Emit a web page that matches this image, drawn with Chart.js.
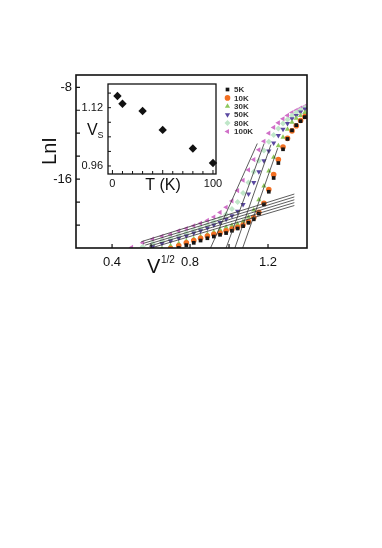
<!DOCTYPE html>
<html><head><meta charset="utf-8">
<script src="https://cdn.jsdelivr.net/npm/chart.js@4.4.1/dist/chart.umd.min.js"></script>
<style>
html,body{margin:0;padding:0;background:#fff;}
#wrap{position:relative;width:382px;height:548px;background:#fff;}
canvas{position:absolute;left:0;top:0;}
</style></head><body>
<div id="wrap"><canvas id="main" width="382" height="548"></canvas><canvas id="inset" width="382" height="548"></canvas></div>
<script>
// ---- main plot data: LnI vs V^(1/2) ----
const vHalf = [0.50,0.557,0.608,0.656,0.70,0.742,0.781,0.819,0.854,0.889,0.922,0.954,0.985,1.015,1.044,1.072,1.10,1.127,1.153,1.179,1.204,1.229,1.253,1.277,1.30,1.323,1.345,1.367,1.389];
const ln5K   = [-23.6,-23.2,-22.8,-22.5,-22.25,-22.0,-21.75,-21.55,-21.35,-21.15,-21.0,-20.85,-20.7,-20.5,-20.3,-20.1,-19.8,-19.5,-19.0,-18.2,-17.1,-15.9,-14.6,-13.4,-12.5,-11.75,-11.3,-10.95,-10.6];
const ln10K  = [-23.4,-23.0,-22.6,-22.3,-22.05,-21.8,-21.55,-21.35,-21.15,-20.95,-20.8,-20.7,-20.5,-20.35,-20.2,-20.0,-19.7,-19.35,-18.9,-18.1,-16.9,-15.6,-14.3,-13.2,-12.45,-11.8,-11.35,-10.9,-10.55];
const ln30K  = [-23.0,-22.65,-22.35,-22.05,-21.8,-21.6,-21.4,-21.2,-21.0,-20.8,-20.6,-20.4,-20.2,-20.05,-19.9,-19.7,-19.3,-18.7,-17.8,-16.6,-15.3,-14.1,-13.1,-12.35,-11.65,-11.05,-10.7,-10.45,-10.2];
const ln50K  = [-22.6,-22.2,-21.9,-21.6,-21.4,-21.15,-20.95,-20.7,-20.5,-20.25,-20.0,-19.77,-19.5,-19.2,-18.8,-18.2,-17.3,-16.3,-15.35,-14.4,-13.55,-12.85,-12.2,-11.65,-11.15,-10.75,-10.45,-10.15,-9.9];
const ln80K  = [-22.3,-21.9,-21.6,-21.35,-21.15,-20.9,-20.7,-20.45,-20.25,-20.0,-19.7,-19.4,-19.05,-18.6,-18.0,-17.2,-16.3,-15.35,-14.4,-13.5,-12.75,-12.15,-11.6,-11.15,-10.8,-10.45,-10.2,-9.98,-9.78];
const ln100K = [-21.95,-21.55,-21.22,-20.98,-20.8,-20.5,-20.3,-20.06,-19.85,-19.6,-19.3,-18.9,-18.45,-17.9,-17.0,-16.1,-15.2,-14.3,-13.45,-12.7,-12.0,-11.5,-11.1,-10.75,-10.45,-10.2,-10.0,-9.82,-9.66];
const seriesNames = ['5K','10K','30K','50K','80K','100K'];
// fitted straight lines, endpoints [v, LnI]
const lowFitStart = [[0.55,-21.45],[0.56,-21.6],[0.57,-21.75],[0.59,-21.85],[0.61,-21.95]];
const lowFitEnd   = [[1.335,-17.3],[1.335,-17.55],[1.335,-17.8],[1.335,-18.05],[1.335,-18.3]];
const highFitStart = [[0.905,-22],[0.985,-22],[1.03,-22],[1.07,-22]];
const highFitEnd   = [[1.145,-12.9],[1.18,-12.9],[1.215,-13.0],[1.25,-13.3]];
const xTicks = [0.4,0.6,0.8,1.0,1.2];
const xTickLabels = ['0.4','','0.8','','1.2'];
const yTicks = [-8,-10,-12,-14,-16,-18,-20];
const yTickLabels = ['-8','','','','-16','',''];
// ---- inset data: Vs vs T ----
const insetT  = [5,10,30,50,80,100];
const insetVs = [1.152,1.131,1.111,1.059,1.008,0.968];
const insetXTicks = [0,10,20,30,40,50,60,70,80,90,100];
const insetYTicks = [0.96,1.00,1.04,1.08,1.12,1.16];

const FONT = '"Liberation Sans", Arial, Helvetica, sans-serif';
const colors = ['#151515','#f26f22','#8dc85c','#5a48a0','#bfe6c8','#d070c8'];
const shapes = ['rect','circle','triangle','triangle','rectRot','triangle'];
const rots = [0,0,0,180,0,-90];
const radii = [2.6,2.8,3.0,3.0,3.0,3.0];
const allSeries = [ln5K,ln10K,ln30K,ln50K,ln80K,ln100K];

const datasets = [];
for (let i=0;i<lowFitStart.length;i++){
  datasets.push({data:[{x:lowFitStart[i][0],y:lowFitStart[i][1]},{x:lowFitEnd[i][0],y:lowFitEnd[i][1]}],
    showLine:true,borderColor:'#333',borderWidth:0.8,pointRadius:0,clip:0,order:1});
}
for (let i=0;i<highFitStart.length;i++){
  datasets.push({data:[{x:highFitStart[i][0],y:highFitStart[i][1]},{x:highFitEnd[i][0],y:highFitEnd[i][1]}],
    showLine:true,borderColor:'#333',borderWidth:0.8,pointRadius:0,clip:0,order:1});
}
allSeries.forEach((s,i)=>{
  datasets.push({label:seriesNames[i],data:vHalf.map((v,k)=>({x:v,y:s[k]})),showLine:false,
    pointStyle:shapes[i],rotation:rots[i],pointRadius:radii[i],backgroundColor:colors[i],borderColor:colors[i],borderWidth:0,clip:0,order:2});
});

function txt(ctx,s,x,y,size,align,base,weight){
  ctx.font=(weight||'normal')+' '+size+'px '+FONT;ctx.textAlign=align||'center';ctx.textBaseline=base||'middle';ctx.fillStyle='#111';ctx.fillText(s,x,y);
}

const legendPlugin = {
  id:'legendPlugin',
  afterDraw(chart){
    const ctx=chart.ctx;
    ctx.save();
    seriesNames.forEach((n,i)=>{
      const y=89.5+i*8.4;
      ctx.fillStyle=colors[i];ctx.strokeStyle=colors[i];
      Chart.helpers.drawPoint(ctx,{pointStyle:shapes[i],rotation:rots[i],radius:radii[i],borderWidth:0},227.5,y);
      ctx.font='bold 8px '+FONT;ctx.textAlign='left';ctx.textBaseline='middle';ctx.fillStyle='#333';
      ctx.fillText(n,234,y+0.5);
    });
    ctx.restore();
  }
};

new Chart(document.getElementById('main'),{
  type:'scatter',
  data:{datasets},
  options:{
    responsive:false,animation:false,devicePixelRatio:1,
    layout:{padding:{left:76,right:75,top:75,bottom:300}},
    scales:{x:{type:'linear',min:0.215,max:1.4,display:false},y:{type:'linear',min:-22,max:-6.93,display:false}},
    plugins:{legend:{display:false},tooltip:{enabled:false}}
  },
  plugins:[{id:'frame',afterDraw(chart){
    const ctx=chart.ctx, a=chart.chartArea, xs=chart.scales.x, ys=chart.scales.y;
    ctx.save();
    ctx.strokeStyle='#111';ctx.lineWidth=1.6;
    ctx.strokeRect(a.left,a.top,a.right-a.left,a.bottom-a.top);
    ctx.lineWidth=1.2;
    ctx.beginPath();
    xTicks.forEach((t)=>{const p=xs.getPixelForValue(t);ctx.moveTo(p,a.bottom);ctx.lineTo(p,a.bottom-4);});
    yTicks.forEach((t)=>{const p=ys.getPixelForValue(t);ctx.moveTo(a.left,p);ctx.lineTo(a.left+4,p);});
    ctx.stroke();
    xTicks.forEach((t,i)=>{if(xTickLabels[i]) txt(ctx,xTickLabels[i],xs.getPixelForValue(t),a.bottom+14,13,'center','middle');});
    yTicks.forEach((t,i)=>{if(yTickLabels[i]) txt(ctx,yTickLabels[i],a.left-4,ys.getPixelForValue(t),13,'right','middle');});
    ctx.save();ctx.translate(50,151);ctx.rotate(-Math.PI/2);txt(ctx,'LnI',0,0,20,'center','middle');ctx.restore();
    txt(ctx,'V',147,273,20,'left','alphabetic');
    txt(ctx,'1/2',161,263,10,'left','alphabetic');
    ctx.restore();
  }}, legendPlugin]
});

new Chart(document.getElementById('inset'),{
  type:'scatter',
  data:{datasets:[{data:insetT.map((t,i)=>({x:t,y:insetVs[i]})),pointStyle:'rectRot',pointRadius:4.2,backgroundColor:'#111',borderColor:'#111',borderWidth:0,clip:false}]},
  options:{
    responsive:false,animation:false,devicePixelRatio:1,
    layout:{padding:{left:108,right:166,top:84,bottom:374}},
    scales:{x:{type:'linear',min:-4.4,max:103,display:false},y:{type:'linear',min:0.938,max:1.185,display:false}},
    plugins:{legend:{display:false},tooltip:{enabled:false}}
  },
  plugins:[{id:'insetBg',beforeDraw(chart){
    const ctx=chart.ctx,a=chart.chartArea;ctx.save();ctx.fillStyle='#fff';ctx.fillRect(a.left,a.top,a.right-a.left,a.bottom-a.top);ctx.restore();
  },afterDraw(chart){
    const ctx=chart.ctx,a=chart.chartArea,xs=chart.scales.x,ys=chart.scales.y;
    ctx.save();ctx.strokeStyle='#111';ctx.lineWidth=1.3;
    ctx.strokeRect(a.left,a.top,a.right-a.left,a.bottom-a.top);
    ctx.lineWidth=1;ctx.beginPath();
    insetXTicks.forEach(t=>{const p=xs.getPixelForValue(t);ctx.moveTo(p,a.bottom);ctx.lineTo(p,a.bottom-(t%50===0?4:3));});
    insetYTicks.forEach(t=>{const p=ys.getPixelForValue(t);ctx.moveTo(a.left,p);ctx.lineTo(a.left+3,p);});
    ctx.stroke();
    txt(ctx,'1.12',a.left-5,ys.getPixelForValue(1.12),11,'right','middle');
    txt(ctx,'0.96',a.left-5,ys.getPixelForValue(0.96),11,'right','middle');
    txt(ctx,'0',xs.getPixelForValue(0),a.bottom+10,11,'center','middle');
    txt(ctx,'100',xs.getPixelForValue(100),a.bottom+10,11,'center','middle');
    txt(ctx,'T (K)',163,186,16,'center','middle');
    txt(ctx,'V',87,135,16,'left','alphabetic');
    txt(ctx,'S',97.5,138,9,'left','alphabetic');
    ctx.restore();
  }}]
});
</script>
</body></html>
